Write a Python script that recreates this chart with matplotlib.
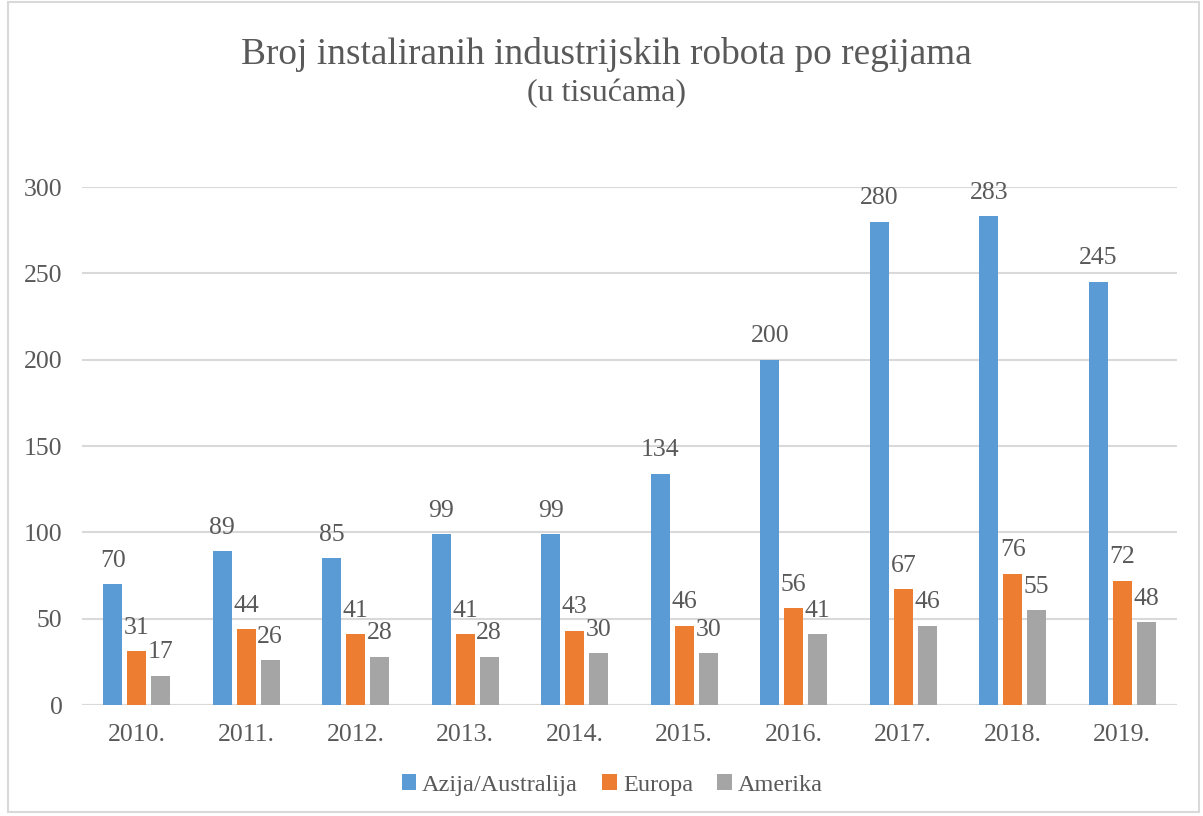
import numpy as np
import matplotlib.pyplot as plt
from matplotlib.patches import Rectangle

plt.rcParams["font.family"] = ["Liberation Serif", "DejaVu Serif"]

years = ["2010.", "2011.", "2012.", "2013.", "2014.", "2015.", "2016.", "2017.", "2018.", "2019."]
azija = [70, 89, 85, 99, 99, 134, 200, 280, 283, 245]
europa = [31, 44, 41, 41, 43, 46, 56, 67, 76, 72]
amerika = [17, 26, 28, 28, 30, 30, 41, 46, 55, 48]
series_names = ["Azija/Australija", "Europa", "Amerika"]
colors = ["#5B9BD5", "#ED7D31", "#A5A5A5"]
text_col = "#595959"

fig = plt.figure(figsize=(12.03, 8.16), dpi=100)
ax = fig.add_axes([82 / 1203, 1 - 705 / 816, (1177 - 82) / 1203, (705 - 187) / 816])

x = np.arange(len(years))
width = 0.174
step = 0.219
for i, (vals, name, c) in enumerate(zip([azija, europa, amerika], series_names, colors)):
    bars = ax.bar(x + (i - 1) * step, vals, width, color=c, label=name, zorder=2)
    ax.bar_label(bars, padding=9, fontsize=18.5, color=text_col)

ax.set_xlim(-0.5, len(years) - 0.5)
ax.set_ylim(0, 300)
ax.set_yticks(range(0, 301, 50))
ax.set_xticks(x)
ax.set_xticklabels(years)
ax.tick_params(axis="both", length=0, labelsize=18.5, labelcolor=text_col)
ax.tick_params(axis="y", pad=14)
ax.tick_params(axis="x", pad=14)
ax.yaxis.grid(True, color="#D9D9D9", linewidth=1.5, zorder=0)
for s in ax.spines.values():
    s.set_visible(False)
ax.axhline(0, color="#D9D9D9", linewidth=1.5, zorder=1)

fig.text(0.504, 1 - 55 / 816, "Broj instaliranih industrijskih robota po regijama",
         ha="center", va="center", fontsize=26.8, color=text_col)
fig.text(0.504, 1 - 94 / 816, "(u tisućama)", ha="center", va="center", fontsize=23, color=text_col)

fig.legend(loc="center", bbox_to_anchor=(0.509, 1 - 785 / 816), ncol=3, frameon=False,
           fontsize=17.5, labelcolor=text_col, handlelength=0.6, handleheight=0.6,
           handletextpad=0.25, columnspacing=1.0)

fig.patches.append(Rectangle((8 / 1203, 4 / 816), 1 - 12 / 1203, 1 - 6 / 816,
                             transform=fig.transFigure, fill=False,
                             edgecolor="#D9D9D9", linewidth=1.5))

plt.savefig("out.png", dpi=100)
